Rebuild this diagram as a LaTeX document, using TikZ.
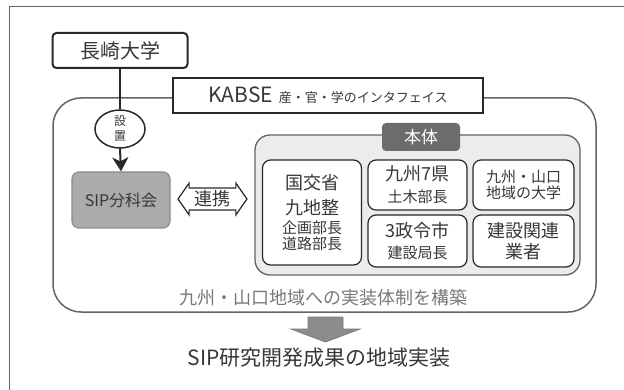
\documentclass[tikz,border=0pt]{standalone}
\usepackage{fontspec}
\setmainfont{Noto Sans CJK JP}
\usetikzlibrary{arrows.meta, shapes.geometric, shapes.arrows, positioning}
\definecolor{dgray} {RGB}{ 40, 40, 40}
\definecolor{tgray} {RGB}{ 55, 55, 55}
\definecolor{bgray} {RGB}{100,100,100}
\definecolor{lgray} {RGB}{236,236,236}
\definecolor{mgray} {RGB}{171,171,171}
\definecolor{tabgr} {RGB}{108,108,108}
\definecolor{ngray} {RGB}{120,120,120}
\definecolor{agray} {RGB}{140,140,140}
\tikzset{
  % University box
  UB/.style={rectangle,rounded corners=4pt,draw=dgray,fill=white,
             minimum width=135pt,minimum height=35pt,line width=2pt,
             text=tgray,font=\fontsize{20}{22}\selectfont},
  % Title box
  KB/.style={rectangle,draw=dgray,fill=white,minimum width=310pt,
             minimum height=35pt,line width=1.3pt,text=tgray},
  % Cell box inside the core
  CB/.style={rectangle,rounded corners=8pt,draw=dgray,fill=white,
             text width=#1,align=center,line width=1.2pt,text=tgray,
             inner sep=0pt,font=\fontsize{18}{22}\selectfont},
  CB/.default=99pt,
  % Gray committee box
  SB/.style={rectangle,rounded corners=7pt,draw=agray,fill=mgray,
             minimum width=98pt,minimum height=56pt,line width=1.2pt,
             text=tgray,font=\fontsize{16}{18}\selectfont},
  % Arrows
  Arr/.style={-{Stealth[length=14pt,width=16pt,inset=4pt]},
              line width=2pt,color=dgray},
  Ln/.style={line width=2pt,color=dgray},
}
\newcommand{\smtxt}[1]{{\fontsize{15}{16}\selectfont #1}}

\begin{document}
\begin{tikzpicture}[x=1pt,y=-1pt]
  \useasboundingbox (0,0) rectangle (624,390);
  % Outer frame
  \draw[bgray,line width=1pt] (9,395) -- (9,7) -- (630,7);
  % Platform container
  \node[rectangle,rounded corners=28pt,draw=bgray,line width=1.5pt,
        minimum width=543pt,minimum height=214pt] at (324.5,205) (plat) {};
  \node[font=\fontsize{18}{20}\selectfont,text=ngray] at (323,298) (note)
        {九州・山口地域への実装体制を構築};
  % Title
  \node[KB] at (328,95.5) (title)
        {\fontsize{21}{22}\selectfont KABSE\hspace{6pt}%
         \fontsize{13}{14}\selectfont 産・官・学のインタフェイス};
  % Core
  \node[rectangle,rounded corners=15pt,draw=bgray,fill=lgray,line width=1.3pt,
        minimum width=325pt,minimum height=140pt] at (417.5,205) (core) {};
  \node[rectangle,rounded corners=4pt,fill=tabgr,text=white,
        minimum width=78pt,minimum height=28pt,
        font=\fontsize{17}{18}\selectfont] at (421,137) (tab) {本体};
  \node[CB=99pt,minimum height=105pt,font=\fontsize{18}{25}\selectfont]
        at (312,212.5) (mlit)
        {国交省\\九地整\\[-6pt]\smtxt{企画部長}\\[-9pt]\smtxt{道路部長}};
  \node[CB=99pt,minimum height=50pt] at (417.5,185) (pref)
        {九州7県\\\smtxt{土木部長}};
  \node[CB=101pt,minimum height=50pt,font=\fontsize{15}{16}\selectfont]
        at (523.5,185) (univ) {九州・山口\\地域の大学};
  \node[CB=99pt,minimum height=52pt] at (417.5,241) (city)
        {3政令市\\[-1pt]\smtxt{建設局長}};
  \node[CB=101pt,minimum height=52pt] at (523.5,241) (ind)
        {建設関連\\[-1pt]業者};
  % University and committee
  \node[UB] at (120,50.5) (uni) {長崎大学};
  \node[ellipse,draw=dgray,fill=white,line width=1.5pt,minimum width=50pt,
        minimum height=38pt,inner sep=0pt,align=center,text=tgray,
        font=\fontsize{12}{15}\selectfont] at (120,129) (est) {設\\置};
  \node[SB] at (121,200) (sip) {SIP分科会};
  \draw[Ln] (uni.south) -- (est.north);
  \draw[Arr] (est.south) -- (sip.north);
  % Link
  \node[double arrow,draw=dgray,fill=white,line width=1.2pt,
        double arrow head extend=5pt,double arrow tip angle=110,
        minimum height=69pt,inner sep=2pt,text=tgray,
        font=\fontsize{18}{20}\selectfont] at (212.5,199) (link) {連携};
  % Result
  \coordinate (dn) at (325.5,317);
  \filldraw[fill=agray,draw=ngray,line width=0.8pt]
        (dn) ++(-17.5,0) -- ++(35,0) -- ++(0,12) -- ++(17,0) -- ++(-34.5,13)
        -- ++(-34.5,-13) -- ++(17,0) -- cycle;
  \node[font=\fontsize{21}{22}\selectfont,text=tgray] at (319,358) (result)
        {SIP研究開発成果の地域実装};
\end{tikzpicture}
\end{document}
